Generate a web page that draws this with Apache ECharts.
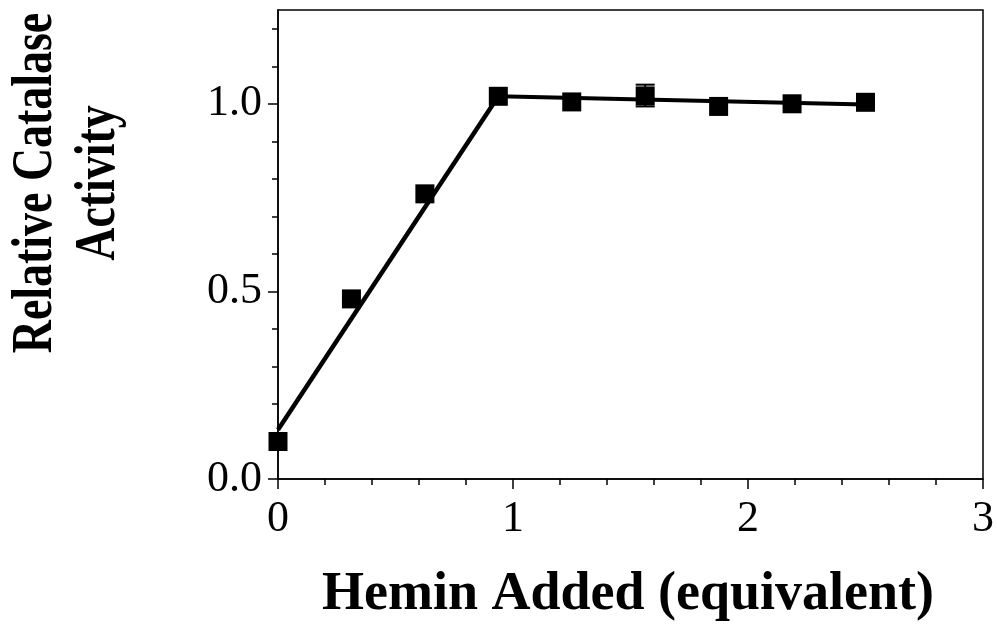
<!DOCTYPE html>
<html>
<head>
<meta charset="utf-8">
<title>Relative Catalase Activity</title>
<script src="https://cdn.jsdelivr.net/npm/echarts@6/dist/echarts.min.js"></script>
<style>
    html, body { margin: 0; padding: 0; background: #fff; }
    #chart { width: 997px; height: 630px; }
</style>
</head>
<body>
<div id="chart"></div>
<script>
// hemin equivalents and measured activity
var heminEq = [0, 0.3125, 0.625, 0.9375, 1.25, 1.5625, 1.875, 2.1875, 2.5];
var activity = [0.10, 0.48, 0.76, 1.02, 1.005, 1.021, 0.993, 1.0, 1.004];
// only one point has a visible error bar
var errX = [1.5625];
var errLow = [0.993];
var errHigh = [1.051];
// fitted lines (two linear segments)
var fitRise = [[0, 0.131], [0.9375, 1.02]];
var fitFlat = [[0.9375, 1.02], [2.5, 0.998]];
// ticks
var xMajor = [0, 1, 2, 3];
var xMinor = [0.2, 0.4, 0.6, 0.8, 1.2, 1.4, 1.6, 1.8, 2.2, 2.4, 2.6, 2.8];
var yMajor = [0, 0.5, 1.0];
var yMinor = [0.1, 0.2, 0.3, 0.4, 0.6, 0.7, 0.8, 0.9, 1.1, 1.2];

var chart = echarts.init(document.getElementById('chart'));
var serif = 'Liberation Serif';

var points = heminEq.map(function (x, i) { return [x, activity[i]]; });
var errData = errX.map(function (x, i) { return [x, errLow[i], errHigh[i]]; });

var option = {
    backgroundColor: '#fff',
    animation: false,
    grid: {
        left: 278, right: 14, top: 10, bottom: 151,
        show: true, borderColor: '#000', borderWidth: 1.5,
        backgroundColor: 'transparent'
    },
    xAxis: [{
        type: 'value', min: 0, max: 3,
        axisLine: { lineStyle: { color: '#000', width: 1.5 } },
        axisTick: { customValues: xMajor, length: 10, inside: false, lineStyle: { color: '#000', width: 1.5 } },
        axisLabel: {
            customValues: xMajor, margin: 18,
            fontFamily: serif, fontSize: 44, color: '#000'
        },
        splitLine: { show: false }
    }, {
        type: 'value', min: 0, max: 3, position: 'bottom',
        axisLine: { show: false },
        axisTick: { customValues: xMinor, length: 6, lineStyle: { color: '#000', width: 1.5 } },
        axisLabel: { show: false },
        splitLine: { show: false }
    }],
    yAxis: [{
        type: 'value', min: 0, max: 1.25,
        axisLine: { show: true, lineStyle: { color: '#000', width: 1.5 } },
        axisTick: { show: true, customValues: yMajor, length: 10, lineStyle: { color: '#000', width: 1.5 } },
        axisLabel: {
            customValues: yMajor, margin: 16,
            fontFamily: serif, fontSize: 44, color: '#000',
            formatter: function (v) { return v.toFixed(1); }
        },
        splitLine: { show: false }
    }, {
        type: 'value', min: 0, max: 1.25, position: 'left',
        axisLine: { show: false },
        axisTick: { show: true, customValues: yMinor, length: 6, lineStyle: { color: '#000', width: 1.5 } },
        axisLabel: { show: false },
        splitLine: { show: false }
    }],
    graphic: [{
        type: 'text', x: 37, y: 183, rotation: Math.PI / 2, scaleX: 0.82,
        style: {
            text: 'Relative Catalase', fill: '#000',
            font: 'bold 56px "Liberation Serif"',
            textAlign: 'center', textVerticalAlign: 'middle'
        }
    }, {
        type: 'text', x: 100, y: 183, rotation: Math.PI / 2, scaleX: 0.82,
        style: {
            text: 'Activity', fill: '#000',
            font: 'bold 56px "Liberation Serif"',
            textAlign: 'center', textVerticalAlign: 'middle'
        }
    }, {
        type: 'text', x: 628, y: 595,
        style: {
            text: 'Hemin Added (equivalent)', fill: '#000',
            font: 'bold 54px "Liberation Serif"',
            textAlign: 'center', textVerticalAlign: 'middle'
        }
    }],
    series: [{
        type: 'line', data: fitRise, symbol: 'none', z: 2,
        lineStyle: { color: '#000', width: 4.5 }
    }, {
        type: 'line', data: fitFlat, symbol: 'none', z: 2,
        lineStyle: { color: '#000', width: 4 }
    }, {
        type: 'custom', z: 3,
        data: errData,
        renderItem: function (params, api) {
            var x = api.value(0);
            var lo = api.coord([x, api.value(1)]);
            var hi = api.coord([x, api.value(2)]);
            var w = 9.5;
            var st = { stroke: '#000', lineWidth: 2 };
            return {
                type: 'group',
                children: [
                    { type: 'line', shape: { x1: lo[0], y1: lo[1], x2: hi[0], y2: hi[1] }, style: st },
                    { type: 'line', shape: { x1: lo[0] - w, y1: lo[1], x2: lo[0] + w, y2: lo[1] }, style: st },
                    { type: 'line', shape: { x1: hi[0] - w, y1: hi[1], x2: hi[0] + w, y2: hi[1] }, style: st }
                ]
            };
        }
    }, {
        type: 'scatter', data: points, z: 4,
        symbol: 'rect', symbolSize: 19,
        itemStyle: { color: '#000', opacity: 1 }
    }]
};
chart.setOption(option);
</script>
</body>
</html>
